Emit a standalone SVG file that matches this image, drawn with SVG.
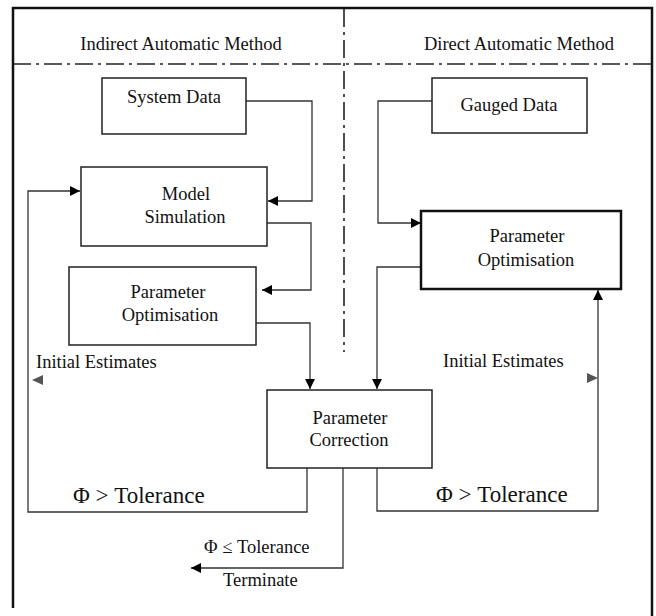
<svg xmlns="http://www.w3.org/2000/svg" width="656" height="616" viewBox="0 0 656 616">
<defs>
<marker id="ah" markerUnits="userSpaceOnUse" markerWidth="11" markerHeight="10" refX="10" refY="5" orient="auto">
<path d="M0,0 L10,5 L0,10 z" fill="#000"/>
</marker>
<style>
.t{font-family:"Liberation Serif","Times New Roman",serif;font-size:18.5px;fill:#111}
.tc{text-anchor:middle}
.big{font-size:23px}
.box{fill:#fff;stroke:#222;stroke-width:1.5}
.boxb{fill:#fff;stroke:#111;stroke-width:2.5}
.ln{fill:none;stroke:#333;stroke-width:1.3}
.arr{marker-end:url(#ah)}
.dd{fill:none;stroke:#222;stroke-width:1.6;stroke-dasharray:18 5 3 5}
</style>
</defs>
<rect width="656" height="616" fill="#fff"/>
<g id="frame">
<path d="M13,608 L13,8 L652,8 L652,616" fill="none" stroke="#111" stroke-width="2.5"/>
<line class="dd" x1="13" y1="64" x2="652" y2="64"/>
<line class="dd" x1="344" y1="9" x2="344" y2="352"/>
<text class="t tc" x="181" y="50">Indirect Automatic Method</text>
<text class="t tc" x="519" y="50">Direct Automatic Method</text>
</g>
<g id="connectors">
<path class="ln arr" d="M246,101 H312 V201 H268"/>
<path class="ln arr" d="M267,223 H311 V290 H262"/>
<path class="ln arr" d="M256,323 H310 V389"/>
<path class="ln arr" d="M307,468 V512 H28 V191 H80"/>
<path class="ln arr" d="M432,101 H378 V223 H421"/>
<path class="ln arr" d="M421,267 H377 V389"/>
<path class="ln arr" d="M377,468 V511 H598 V290"/>
<path class="ln arr" d="M343,468 V568 H191"/>
<polygon points="32,380 43,375 43,385" fill="#555"/>
<polygon points="598,378 587,373 587,383" fill="#555"/>
</g>
<g id="system-data">
<rect class="box" x="102" y="78" width="144" height="56"/>
<text class="t tc" x="174" y="103">System Data</text>
</g>
<g id="model-simulation">
<rect class="box" x="81" y="167" width="186" height="79"/>
<text class="t tc" x="186" y="200">Model</text>
<text class="t tc" x="185" y="223">Simulation</text>
</g>
<g id="parameter-optimisation-indirect">
<rect class="box" x="69" y="267" width="187" height="78"/>
<text class="t tc" x="168" y="298">Parameter</text>
<text class="t tc" x="170" y="321">Optimisation</text>
</g>
<g id="gauged-data">
<rect class="box" x="432" y="78" width="155" height="55"/>
<text class="t tc" x="509" y="111">Gauged Data</text>
</g>
<g id="parameter-optimisation-direct">
<rect class="boxb" x="421" y="211" width="200" height="78"/>
<text class="t tc" x="527" y="242">Parameter</text>
<text class="t tc" x="526" y="266">Optimisation</text>
</g>
<g id="parameter-correction">
<rect class="box" x="267" y="390" width="165" height="78"/>
<text class="t tc" x="350" y="424">Parameter</text>
<text class="t tc" x="349" y="446">Correction</text>
</g>
<g id="labels">
<text class="t" x="36" y="368">Initial Estimates</text>
<text class="t" x="443" y="367">Initial Estimates</text>
<text class="t big" x="73" y="503">Φ &gt; Tolerance</text>
<text class="t big" x="436" y="502">Φ &gt; Tolerance</text>
<text class="t" x="204" y="553">Φ ≤ Tolerance</text>
<text class="t" x="223" y="586">Terminate</text>
</g>
</svg>
